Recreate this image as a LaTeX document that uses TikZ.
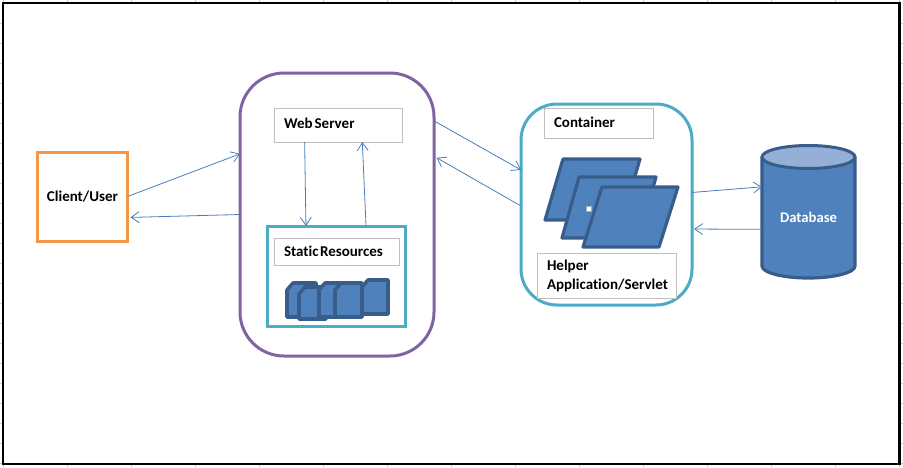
\documentclass[tikz,border=0pt]{standalone}
\usepackage{fontspec}
\setmainfont[Ligatures=NoCommon]{Carlito}
\usetikzlibrary{arrows.meta}
\definecolor{flowblue}{HTML}{4A7EBB}
\definecolor{shapeblue}{HTML}{4F81BD}
\definecolor{shapeline}{HTML}{385D8A}
\definecolor{topblue}{HTML}{95B0D6}
\definecolor{tealline}{HTML}{4BACC6}
\definecolor{purpleline}{HTML}{8064A2}
\definecolor{orangeline}{HTML}{F79646}
\definecolor{labelgray}{HTML}{BFBFBF}
\newcommand{\lblfont}{\fontsize{15}{19}\selectfont\bfseries}
\tikzset{
  lbl/.style={font=\lblfont,text=black},
  flow/.style={draw=flowblue,line width=0.8pt,-{Straight Barb[length=8pt,width=11pt,line width=0.8pt]}},
  labelbox/.style={draw=labelgray,line width=1pt,fill=white,inner ysep=0pt,inner xsep=10pt,outer sep=0pt,align=left,lbl},
  blob/.style={draw=shapeline,fill=shapeblue,line width=3.2pt,line join=round},
  docblob/.style={blob,line width=3.6pt},
  gridtick/.style={draw=black!20,line width=1pt}
}
\newcommand{\snipdoc}[4]{%
  \draw[docblob] ({#1+6},#2) -- (#3,#2) -- (#3,#4) -- (#1,#4) -- (#1,{#2+7}) -- cycle;}
\begin{document}
\begin{tikzpicture}[x=1pt,y=-1pt]
\useasboundingbox (0,0) rectangle (903,467);
\fill[white] (0,0) rectangle (903,467);
% faint sheet grid showing outside the frame
\foreach \gx in {3,67,131,195,259,323,387,451,515,579,643,707,771,835,899}{
  \path[gridtick] (\gx,0) -- (\gx,2);
  \path[gridtick] (\gx,465) -- (\gx,467);}
\foreach \gy in {23,43,...,463}{
  \path[gridtick] (0,\gy) -- (2,\gy);
  \path[gridtick] (900,\gy) -- (903,\gy);}
\node[draw=black,line width=2.5pt,minimum width=896.5pt,minimum height=461pt,inner sep=0pt] (frame) at (451.25,233.5) {};

\node[draw=orangeline,line width=3pt,minimum width=90pt,minimum height=89pt,inner sep=0pt,outer sep=0pt,lbl] (client) at (82.5,196.5) {Client/User};
\node[draw=purpleline,line width=3pt,rounded corners=44pt,minimum width=194pt,minimum height=283pt,inner sep=0pt,outer sep=0pt] (web) at (337,214.5) {};
\node[labelbox,minimum width=128pt,minimum height=34pt,text width=108pt] (webbox) at (338,125) {\raisebox{3pt}{Web\hspace{2pt}Server}};
\node[draw=tealline,line width=3pt,minimum width=138pt,minimum height=100pt,inner sep=0pt,outer sep=0pt] (static) at (336,276) {};
\node[labelbox,minimum width=125pt,minimum height=27pt,text width=105pt] (staticbox) at (336.5,251.5) {\raisebox{-1pt}{Static\hspace{1.5pt}Resources}};
\snipdoc{362}{280}{388}{314}
\snipdoc{287}{283}{316}{317}
\snipdoc{299}{287}{326}{319}
\snipdoc{319}{283}{345}{317}
\snipdoc{335}{283}{362}{317}

\node[draw=tealline,line width=3pt,rounded corners=36pt,minimum width=171pt,minimum height=201pt,inner sep=0pt,outer sep=0pt] (cont) at (606.5,204.5) {};
\node[labelbox,minimum width=109pt,minimum height=30pt,text width=89pt] (contbox) at (598.5,123) {\raisebox{1pt}{Container}};
\draw[blob] (563,159) -- (640,159) -- (622,220) -- (545,220) -- cycle;
\draw[blob] (579,177) -- (656,177) -- (639,238) -- (562,238) -- cycle;
\draw[blob] (602,187) -- (678,187) -- (659,247) -- (583,247) -- cycle;
\fill[white,draw=shapeline!50,line width=0.4pt] (586.5,206.5) rectangle (591.5,211.5);
\node[labelbox,minimum width=139pt,minimum height=45pt,text width=119pt] (helper) at (606.5,275.5) {\raisebox{-1pt}{Helper}\\\raisebox{-1pt}{Application/Servlet}};

% database cylinder
\node[minimum width=93pt,minimum height=133pt,inner sep=0pt,outer sep=0pt] (db) at (808.5,211.5) {};
\draw[blob] (762,157) -- (762,266) arc[start angle=180,end angle=360,x radius=46.5,y radius=-12] -- (855,157);
\fill[shapeblue] (763.5,157) rectangle (853.5,160);
\draw[draw=shapeline,fill=topblue,line width=3pt] (808.5,157) ellipse[x radius=46.5pt,y radius=11.5pt];
\node[font=\fontsize{14.7}{16}\selectfont\bfseries,text=white] (dbtext) at (808.5,217.5) {Database};

\draw[flow] (client.east) -- (web.148.9);
\draw[flow,shorten >=3pt] (web.west) -- (client.-25.3);
\draw[flow] (webbox.207.3) -- (static.121);
\draw[flow] (static.59.9) -- (webbox.-35.3);
\draw[flow] (web.44.3) -- (cont.158.6);
\draw[flow,shorten >=3pt] (cont.181) -- (web.31.5);
\draw[flow] (cont.8.98) -- (db.152.2);
\draw[flow,shorten >=2pt] (db.201.7) -- (cont.-16.6);
\end{tikzpicture}
\end{document}
